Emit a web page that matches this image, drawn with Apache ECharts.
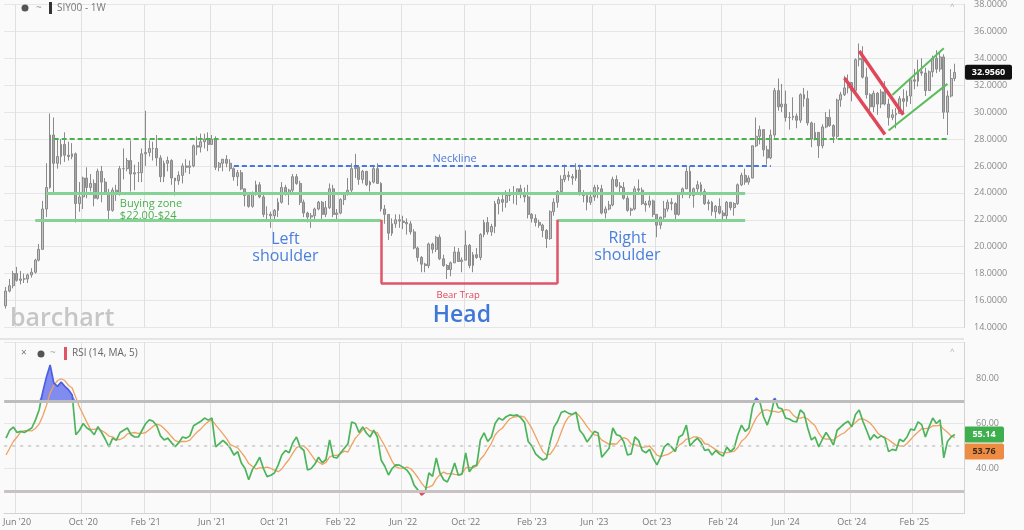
<!DOCTYPE html>
<html><head><meta charset="utf-8">
<script src="https://cdn.jsdelivr.net/npm/echarts@6/dist/echarts.min.js"></script>
<style>html,body{margin:0;padding:0;background:#fafafa}#c{width:1024px;height:530px}</style>
</head><body><div id="c"></div><script>
const weeks = [
'2020-05-11','2020-05-18','2020-05-25','2020-06-01','2020-06-08','2020-06-15','2020-06-22','2020-06-29','2020-07-06','2020-07-13','2020-07-20','2020-07-27','2020-08-03','2020-08-10','2020-08-17','2020-08-24','2020-08-31','2020-09-07','2020-09-14','2020-09-21','2020-09-28','2020-10-05','2020-10-12','2020-10-19','2020-10-26','2020-11-02','2020-11-09','2020-11-16','2020-11-23','2020-11-30','2020-12-07','2020-12-14','2020-12-21','2020-12-28',
'2021-01-04','2021-01-11','2021-01-18','2021-01-25','2021-02-01','2021-02-08','2021-02-15','2021-02-22','2021-03-01','2021-03-08','2021-03-15','2021-03-22','2021-03-29','2021-04-05','2021-04-12','2021-04-19','2021-04-26','2021-05-03','2021-05-10','2021-05-17','2021-05-24','2021-05-31','2021-06-07','2021-06-14','2021-06-21','2021-06-28','2021-07-05','2021-07-12','2021-07-19','2021-07-26','2021-08-02','2021-08-09','2021-08-16','2021-08-23','2021-08-30','2021-09-06','2021-09-13','2021-09-20','2021-09-27','2021-10-04','2021-10-11','2021-10-18','2021-10-25','2021-11-01','2021-11-08','2021-11-15','2021-11-22','2021-11-29','2021-12-06','2021-12-13','2021-12-20','2021-12-27',
'2022-01-03','2022-01-10','2022-01-17','2022-01-24','2022-01-31','2022-02-07','2022-02-14','2022-02-21','2022-02-28','2022-03-07','2022-03-14','2022-03-21','2022-03-28','2022-04-04','2022-04-11','2022-04-18','2022-04-25','2022-05-02','2022-05-09','2022-05-16','2022-05-23','2022-05-30','2022-06-06','2022-06-13','2022-06-20','2022-06-27','2022-07-04','2022-07-11','2022-07-18','2022-07-25','2022-08-01','2022-08-08','2022-08-15','2022-08-22','2022-08-29','2022-09-05','2022-09-12','2022-09-19','2022-09-26','2022-10-03','2022-10-10','2022-10-17','2022-10-24','2022-10-31','2022-11-07','2022-11-14','2022-11-21','2022-11-28','2022-12-05','2022-12-12','2022-12-19','2022-12-26',
'2023-01-02','2023-01-09','2023-01-16','2023-01-23','2023-01-30','2023-02-06','2023-02-13','2023-02-20','2023-02-27','2023-03-06','2023-03-13','2023-03-20','2023-03-27','2023-04-03','2023-04-10','2023-04-17','2023-04-24','2023-05-01','2023-05-08','2023-05-15','2023-05-22','2023-05-29','2023-06-05','2023-06-12','2023-06-19','2023-06-26','2023-07-03','2023-07-10','2023-07-17','2023-07-24','2023-07-31','2023-08-07','2023-08-14','2023-08-21','2023-08-28','2023-09-04','2023-09-11','2023-09-18','2023-09-25','2023-10-02','2023-10-09','2023-10-16','2023-10-23','2023-10-30','2023-11-06','2023-11-13','2023-11-20','2023-11-27','2023-12-04','2023-12-11','2023-12-18','2023-12-25',
'2024-01-01','2024-01-08','2024-01-15','2024-01-22','2024-01-29','2024-02-05','2024-02-12','2024-02-19','2024-02-26','2024-03-04','2024-03-11','2024-03-18','2024-03-25','2024-04-01','2024-04-08','2024-04-15','2024-04-22','2024-04-29','2024-05-06','2024-05-13','2024-05-20','2024-05-27','2024-06-03','2024-06-10','2024-06-17','2024-06-24','2024-07-01','2024-07-08','2024-07-15','2024-07-22','2024-07-29','2024-08-05','2024-08-12','2024-08-19','2024-08-26','2024-09-02','2024-09-09','2024-09-16','2024-09-23','2024-09-30','2024-10-07','2024-10-14','2024-10-21','2024-10-28','2024-11-04','2024-11-11','2024-11-18','2024-11-25','2024-12-02','2024-12-09','2024-12-16','2024-12-23','2024-12-30',
'2025-01-06','2025-01-13','2025-01-20','2025-01-27','2025-02-03','2025-02-10','2025-02-17','2025-02-24','2025-03-03','2025-03-10','2025-03-17','2025-03-24','2025-03-31','2025-04-07','2025-04-14','2025-04-21','2025-04-28','2025-05-05'];

const open = [
15.6,16.7,17.1,18.0,17.5,17.6,17.6,17.9,18.1,19.0, 19.8,22.8,24.4,28.3,26.2,26.7,27.6,26.8,26.7,26.9,
23.2,23.7,25.1,24.4,24.7,23.6,25.6,24.8,23.9,22.7, 24.2,23.9,25.8,25.8,26.4,25.4,25.5,25.5,26.9,27.0,
27.3,27.3,26.6,25.2,26.2,26.4,25.1,24.9,25.3,26.0, 25.9,26.0,27.5,27.4,27.8,28.0,27.6,28.0,25.9,26.2,
26.5,26.2,25.8,25.2,25.5,24.3,23.8,23.0,24.0,24.6, 23.7,22.4,22.4,22.3,22.7,23.3,24.4,24.0,24.2,25.2,
24.7,23.3,22.5,22.2,22.3,22.8,23.3,22.4,22.9,24.3, 22.4,22.5,23.5,23.9,24.2,25.8,25.9,25.0,25.6,24.6,
24.8,25.8,24.7,22.8,22.4,21.0,21.7,22.0,21.9,21.8, 21.7,21.1,19.9,19.2,18.7,18.6,20.2,19.8,20.7,19.1,
18.6,18.3,18.8,19.6,18.9,19.0,20.1,18.6,19.4,19.2, 20.9,21.8,21.1,21.5,23.2,23.5,23.3,23.8,24.0,24.0,
24.3,24.0,23.7,22.4,22.1,21.8,21.6,21.2,20.6,22.6, 23.3,24.1,25.0,25.3,25.2,25.1,25.7,24.0,23.8,23.3,
23.7,24.4,24.3,22.5,22.8,23.1,25.0,24.5,24.4,23.6, 22.7,22.8,24.3,24.2,23.2,23.1,23.4,22.4,21.6,22.2,
22.8,23.3,23.2,22.4,24.0,24.3,25.6,23.8,24.3,24.6, 24.1,23.2,23.3,22.6,23.0,22.5,22.3,23.3,22.9,23.2,
24.6,25.3,24.8,25.1,27.5,28.2,28.7,27.2,26.6,28.3, 31.6,30.4,30.6,29.6,29.6,29.7,29.4,31.3,31.0,29.2,
28.0,28.5,27.5,28.9,29.6,29.0,28.2,30.9,31.3,31.8, 32.2,31.6,33.9,34.0,32.6,31.3,30.4,31.4,30.6,31.5,
30.6,29.6,29.8,29.9,31.0,30.8,31.2,32.4,32.3,33.0, 32.9,31.6,33.0,34.0,33.2,34.1,30.0,31.2,32.5];

const high = [
17.0,17.6,18.2,18.5,18.2,18.0,18.0,18.4,19.1,20.2, 23.4,26.2,29.9,29.6,28.0,28.0,28.5,27.8,27.7,27.0,
24.8,25.2,25.9,25.4,25.0,25.8,26.0,25.1,24.3,24.4, 24.6,26.0,27.3,26.6,27.9,26.1,26.3,27.3,30.1,27.9,
27.8,28.3,26.8,26.4,26.7,26.5,25.1,25.6,26.2,26.5, 26.4,27.6,28.2,28.4,28.4,28.5,28.3,28.2,26.3,26.5,
26.8,26.5,25.9,25.7,25.7,24.3,23.9,24.1,24.9,24.8, 24.0,23.0,22.6,22.8,23.6,24.8,24.6,24.3,25.4,25.4,
24.9,23.5,22.6,22.5,22.9,23.4,23.4,23.4,24.7,24.6, 22.8,23.6,24.0,25.1,26.2,26.9,25.9,25.7,25.6,24.9,
26.0,26.2,24.8,23.1,22.4,22.1,22.4,22.4,22.3,22.1, 21.9,21.3,20.0,19.3,18.8,20.3,20.3,20.8,20.9,19.4,
18.7,18.9,20.0,19.9,19.2,21.2,20.2,19.6,19.9,21.0, 22.0,22.2,21.7,23.4,23.7,24.0,24.2,24.3,24.5,24.3,
24.6,24.4,24.6,22.5,22.4,22.0,21.7,21.3,22.7,23.6, 24.2,25.3,26.1,25.6,25.4,26.2,26.1,24.2,23.8,24.1,
24.6,24.6,24.6,23.0,23.4,25.2,25.3,24.8,24.8,23.8, 22.9,24.5,25.0,24.4,23.4,23.8,23.5,22.4,22.2,23.4,
23.5,23.6,23.3,24.0,24.4,25.9,26.0,24.4,24.9,24.8, 24.3,23.5,23.4,23.1,23.6,22.7,23.4,23.3,23.3,24.7,
25.5,25.8,25.3,27.5,29.6,29.0,28.7,27.5,28.7,31.8, 32.5,32.1,31.6,30.0,31.1,29.9,31.4,31.8,31.6,29.3,
29.2,28.5,29.1,30.0,30.2,29.1,31.0,31.5,32.7,32.8, 32.2,34.0,35.1,34.9,33.3,31.4,31.6,31.5,31.7,32.3,
31.0,30.2,30.3,31.2,31.7,31.6,32.5,33.2,33.9,34.0, 33.3,33.1,34.2,34.6,34.5,34.3,31.6,33.2,33.6];

const low = [
15.4,16.6,16.9,17.4,17.2,17.3,17.3,17.7,18.0,18.9, 19.8,22.2,24.3,24.0,25.8,26.1,26.3,26.4,26.5,21.8,
22.6,22.8,23.6,24.1,23.0,23.5,23.3,23.9,21.9,22.6, 23.4,23.8,25.0,25.6,24.1,24.2,24.8,24.8,26.0,26.7,
26.4,26.0,24.8,24.8,25.6,24.6,23.8,24.6,24.7,25.5, 25.4,25.9,26.8,27.0,27.3,27.1,27.6,25.7,25.6,25.6,
25.9,25.6,24.9,24.5,24.2,23.0,22.9,22.9,23.8,23.6, 22.2,22.0,21.4,22.0,22.2,23.2,23.8,23.1,23.9,24.6,
23.1,22.2,21.8,21.4,22.0,22.7,22.0,22.2,22.8,22.2, 22.0,22.4,23.1,23.8,24.0,25.1,24.6,24.7,24.5,24.1,
24.7,24.7,22.6,21.7,20.5,20.8,21.4,21.4,21.3,20.9, 20.9,19.8,18.9,18.1,18.1,18.4,19.5,19.6,19.0,18.5,
17.6,17.8,18.8,18.9,18.1,19.0,18.4,18.1,19.1,19.0, 20.7,20.9,20.8,21.0,22.4,22.6,22.9,23.4,23.2,23.1,
23.6,23.3,22.1,21.8,21.5,21.4,20.7,19.9,20.5,22.3, 22.9,24.0,24.8,24.9,24.6,24.9,23.8,23.3,22.7,23.1,
23.4,23.6,22.4,22.1,22.7,23.0,24.4,23.9,23.5,22.6, 22.3,22.7,24.0,23.1,22.6,22.9,22.2,20.7,21.3,21.9,
22.6,22.7,21.9,22.3,23.6,24.3,23.6,22.9,24.0,23.8, 23.1,22.7,22.3,22.1,22.4,22.0,21.9,22.7,22.3,23.1,
24.5,24.6,24.6,25.1,27.4,27.6,26.7,26.1,26.5,28.1, 30.1,30.0,29.3,28.7,29.4,28.8,29.2,30.4,29.0,27.4,
27.9,26.6,27.3,28.8,28.9,27.7,28.0,30.4,31.2,31.4, 30.8,31.5,33.4,32.5,31.0,29.7,30.0,29.8,30.3,30.5,
29.0,29.4,28.8,29.9,29.9,30.4,30.6,31.7,31.9,32.7, 31.2,31.6,32.6,32.9,33.0,29.5,28.3,31.1,32.3];

const close = [
16.7,17.1,18.0,17.5,17.6,17.6,17.9,18.1,19.0,19.8, 22.8,24.4,28.3,26.2,26.7,27.6,26.8,26.7,26.9,23.2,
23.7,25.1,24.4,24.7,23.6,25.6,24.8,23.9,22.7,24.2, 23.9,25.8,25.8,26.4,25.4,25.5,25.5,26.9,27.0,27.3,
27.3,26.6,25.2,26.2,26.4,25.1,24.9,25.3,26.0,25.9, 26.0,27.5,27.4,27.8,28.0,27.6,28.0,25.9,26.2,26.5,
26.2,25.8,25.2,25.5,24.3,23.8,23.0,24.0,24.6,23.7, 22.4,22.4,22.3,22.7,23.3,24.4,24.0,24.2,25.2,24.7,
23.3,22.5,22.2,22.3,22.8,23.3,22.4,22.9,24.3,22.4, 22.5,23.5,23.9,24.2,25.8,25.9,25.0,25.6,24.6,24.8,
25.8,24.7,22.8,22.4,21.0,21.7,22.0,21.9,21.8,21.7, 21.1,19.9,19.2,18.7,18.6,20.2,19.8,20.7,19.1,18.6,
18.3,18.8,19.6,18.9,19.0,20.1,18.6,19.4,19.2,20.9, 21.8,21.1,21.5,23.2,23.5,23.3,23.8,24.0,24.0,24.3,
24.0,23.7,22.4,22.1,21.8,21.6,21.2,20.6,22.6,23.3, 24.1,25.0,25.3,25.2,25.1,25.7,24.0,23.8,23.3,23.7,
24.4,24.3,22.5,22.8,23.1,25.0,24.5,24.4,23.6,22.7, 22.8,24.3,24.2,23.2,23.1,23.4,22.4,21.6,22.2,22.8,
23.3,23.2,22.4,24.0,24.3,25.6,23.8,24.3,24.6,24.1, 23.2,23.3,22.6,23.0,22.5,22.3,23.3,22.9,23.2,24.6,
25.3,24.8,25.1,27.5,28.2,28.7,27.2,26.6,28.3,31.6, 30.4,30.6,29.6,29.6,29.7,29.4,31.3,31.0,29.2,28.0,
28.5,27.5,28.9,29.6,29.0,28.2,30.9,31.3,31.8,32.2, 31.6,33.9,34.0,32.6,31.3,30.4,31.4,30.6,31.5,30.6,
29.6,29.8,29.9,31.0,30.8,31.2,32.4,32.3,33.0,32.9, 31.6,33.0,34.0,33.2,34.1,30.0,31.2,32.5,32.956];

const rsi = [
53.5,57,58.4,56,56.5,56,57,58,61.5,66, 74,80.7,86,78,76.5,78.4,76.5,75,72.7,55,
57,60,58,57,55,58.6,56,53,49.6,53.5, 52.5,56,57,58,55,54,54,57,60,61.6,
61,59,54.5,52.7,53.5,51.5,49.7,51.5,54,53.5, 54.5,59,60,61,62.4,61.5,62.4,49.6,51,52.5,
51,49,46,47.5,42.4,40,35,39.5,42,45, 40,36.4,37,38,41.5,46,48,47,51.5,54,
49.5,48,39.3,40,42,45,42.5,44,52.7,45, 44.7,47,49,51,60.7,60,56,58.5,55.8,54,
57,54,43.8,41,37.1,40,41.6,41.5,40.5,39.3, 37,32.5,30.5,28.2,29.5,38,36.5,44.7,38,35,
34,37.5,42.4,37,37.5,46.9,38.5,41,41.5,52.7, 55.8,52,54,60,62.4,61.5,63,63.8,63.5,63.8,
62.5,60.5,52,50,46.5,45,43.8,44.5,52,58.4, 61,65,65.5,64.5,64,65,57,55,51.8,54,
56.5,55.8,45,47,49,58,55,54.5,51.8,46, 46.5,54,52.5,48,47,48.5,44.5,41.6,45,49.6,
51,49.5,47.5,54,55,59.3,50,52,53.5,51.5, 48,48.5,46,48,46.5,45.5,49.5,47.5,49,55,
59.3,56.5,58,67.3,71.3,69.5,63,59.3,64,71.3, 67,66.5,62.4,62,61,60.7,66,64.5,58,52.7,
54,49.6,53,56,53.5,50.4,57,58.5,60,61, 58.5,64,66,61,57,52.7,55,53.5,54.5,53.5,
47.5,48.5,48,53,52,54,57.5,57,60.7,59.5, 54,58.5,62.4,60,61.6,44.7,52,54,55.14];

const rsiMa = [
46,49,52,54,56.3,56.8,56.8,56.7,57.8,59.7, 63.3,68,73.6,76.9,79,79.9,79.1,76.9,75.8,71.5,
67.2,63.9,60.5,57.4,57.4,57.7,56.9,55.9,54.4,54.1, 52.9,52.9,53.7,55.4,55.7,56,55.6,55.6,56,57.3,
58.7,59.7,59.2,57.8,56.1,54.2,52.4,51.8,52,52, 52.6,54.5,56.2,57.6,59.4,60.8,61.5,59.4,57.4,55.4,
53.3,50.6,49.9,49.2,47.2,45,42.2,40.9,39.8,40.3, 40.3,40.6,40.1,39.3,38.6,39.8,42.1,44.1,46.8,49.3,
50,50,48.5,46.2,43.8,42.9,41.8,42.7,45.2,45.8, 45.8,46.7,47.7,47.3,50.5,53.5,55.3,57.2,58.2,56.9,
56.3,55.9,52.9,50,46.6,43.2,40.7,40.2,40.1,40.6, 40,38.2,36,33.5,31.5,31.7,32.5,35.4,37.3,38.4,
37.6,37.8,37.4,37.2,37.7,40.3,40.5,40.2,41.1,44.1, 45.9,48.6,51.2,54.9,56.8,58,60.2,62.1,62.8,63.1,
63.3,62.8,60.5,57.8,54.3,50.8,47.5,46,46.4,48.7, 51.9,56.2,60.4,62.9,64,64.8,63.2,61.1,58.6,56.6,
54.9,54.6,52.6,51.7,50.7,51,50.8,52.7,53.7,53.1, 50.8,50.6,50.2,49.4,49.6,50,48.1,45.9,45.3,45.8,
46.3,47.3,48.5,50.3,51.4,53.1,53.2,54.1,54,53.3, 51,50.7,49.5,48.4,47.4,46.9,47.1,47.4,47.6,49.3,
52.1,53.5,55.6,59.2,62.5,64.5,65.8,66.1,65.4,65.4, 64.9,65.6,66.2,65.8,63.8,62.5,62.4,62.8,62,60.4,
59,55.8,53.5,53.1,53.2,52.5,54,55.1,55.9,57.4, 59,60.4,61.9,62.1,61.3,60.1,58.3,55.8,54.5,53.8,
52.8,51.5,50.4,50.1,49.8,51.1,52.9,54.7,56.2,57.7, 57.7,57.9,59,58.9,59.3,57.4,56.1,54.5,53.76];

const tickMonths = [1, 5, 9];
const monthNames = ['Jan','Feb','Mar','Apr','May','Jun','Jul','Aug','Sep','Oct','Nov','Dec'];
const symbolTitle = 'SIY00 - 1W';
const rsiTitle = 'RSI (14, MA, 5)';
const lastPrice = 32.956;
const lastRsi = 55.14;
const lastRsiMa = 53.76;

const F = "'Open Sans', 'DejaVu Sans', sans-serif";
function isTick(i) {
  const d = weeks[i]; if (!d) return false;
  const m = +d.slice(5, 7) - 1, day = +d.slice(8, 10);
  return tickMonths.indexOf(m) >= 0 && day <= 7;
}
function fmtDate(d) { return monthNames[+d.slice(5, 7) - 1] + " '" + d.slice(2, 4); }

const candle = close.map((c, i) => [open[i], c, low[i], high[i]]);
const obBase = rsi.map(() => 70);
const obTop = rsi.map(v => Math.max(v - 70, 0));
const osBase = rsi.map(v => Math.min(v, 30));
const osTop = rsi.map(v => 30 - Math.min(v, 30));

function seg(a, b, style) { return [{ coord: a, lineStyle: style }, { coord: b }]; }
const gDash = { color: '#4caf50', width: 2, type: [5, 3] };
const bDash = { color: '#4a78d8', width: 2, type: [5, 3] };
const gSolid = { color: '#84d294', width: 3, type: 'solid' };
const rBox = { color: '#e05468', width: 2.5, type: 'solid' };
const rChan = { color: '#e0485a', width: 3.5, type: 'solid' };
const gChan = { color: '#5cbd5c', width: 2, type: 'solid' };

function txt(coord, text, color, size, extra) {
  return Object.assign({ coord: coord, symbolSize: 0,
    label: Object.assign({ show: true, position: 'inside', formatter: text, color: color, fontSize: size, fontFamily: F, lineHeight: size + 2 }, extra || {}) });
}

const chart = echarts.init(document.getElementById('c'), null, { renderer: 'canvas' });
const option = {
  animation: false,
  backgroundColor: '#fafafa',
  textStyle: { fontFamily: F },
  grid: [
    { left: 4, right: 60, top: 1, height: 326.4 },
    { left: 4, right: 60, top: 342.5, height: 171 }
  ],
  xAxis: [
    { type: 'category', gridIndex: 0, data: weeks, boundaryGap: true,
      axisLine: { show: false }, axisTick: { show: false }, axisLabel: { show: false },
      splitLine: { show: true, interval: (i) => isTick(i), lineStyle: { color: '#e0e0e0' } } },
    { type: 'category', gridIndex: 1, data: weeks, boundaryGap: true,
      axisLine: { show: true, lineStyle: { color: '#d2d2d2' } }, axisTick: { show: false },
      axisLabel: { interval: (i) => isTick(i), formatter: fmtDate, color: '#777', fontSize: 9, margin: 4, fontFamily: F },
      splitLine: { show: true, interval: (i) => isTick(i), lineStyle: { color: '#e0e0e0' } } }
  ],
  yAxis: [
    { type: 'value', gridIndex: 0, position: 'right', min: 14, max: 38, interval: 2,
      axisLine: { show: true, lineStyle: { color: '#d2d2d2' } }, axisTick: { show: false },
      axisLabel: { formatter: v => v.toFixed(4), color: '#8a8a8a', fontSize: 9, margin: 10, fontFamily: F },
      splitLine: { lineStyle: { color: '#e6e6e6' } } },
    { type: 'value', gridIndex: 1, position: 'right', min: 20, max: 96, interval: 20,
      axisLine: { show: true, lineStyle: { color: '#d2d2d2' } }, axisTick: { show: false },
      axisLabel: { formatter: v => (v <= 20 || v > 90) ? '' : v.toFixed(2), color: '#8a8a8a', fontSize: 9, margin: 12, fontFamily: F },
      splitLine: { lineStyle: { color: '#e6e6e6' } } }
  ],
  visualMap: {
    show: false, type: 'piecewise', seriesIndex: 1, dimension: 1,
    pieces: [{ lt: 30, color: '#e0485a' }, { gte: 30, lte: 70, color: '#4cb45a' }, { gt: 70, color: '#4e5fe0' }]
  },
  series: [
    { type: 'candlestick', xAxisIndex: 0, yAxisIndex: 0, data: candle, barWidth: '65%',
      itemStyle: { color: '#c4c4c4', color0: '#a6a6a6', borderColor: '#8a8a8a', borderColor0: '#8a8a8a', borderWidth: 1 },
      markLine: { silent: true, symbol: ['none', 'none'], label: { show: false }, emphasis: { disabled: true },
        data: [
          seg(['2020-08-10', 28], ['2025-04-07', 28], gDash),
          seg(['2021-07-19', 26], ['2024-05-06', 26], bDash),
          seg(['2020-07-27', 24], ['2024-03-18', 24], gSolid),
          seg(['2020-07-06', 22], ['2022-04-25', 22], gSolid),
          seg(['2023-03-27', 22], ['2024-03-18', 22], gSolid),
          seg(['2022-04-25', 22], ['2022-04-25', 17.25], rBox),
          seg(['2022-04-25', 17.25], ['2023-03-27', 17.25], rBox),
          seg(['2023-03-27', 17.25], ['2023-03-27', 22], rBox),
          seg(['2024-09-23', 32.53], ['2024-12-09', 28.34], rChan),
          seg(['2024-10-21', 34.55], ['2025-01-13', 29.81], rChan),
          seg(['2024-12-16', 28.63], ['2025-04-07', 32.1], gChan),
          seg(['2024-12-23', 31.28], ['2025-03-31', 34.74], gChan)
        ] },
      markPoint: { silent: true, symbol: 'circle', symbolSize: 0, itemStyle: { color: 'rgba(0,0,0,0)' },
        data: [
          txt(['2022-09-12', 26.5], 'Neckline', '#4a78d8', 11),
          txt(['2020-12-14', 22.75], 'Buying zone\n$22.00-$24', '#4caf50', 11, { align: 'left', lineHeight: 12 }),
          txt(['2021-10-25', 19.88], 'Left\nshoulder', '#4a80dc', 16, { lineHeight: 17 }),
          txt(['2023-08-07', 19.96], 'Right\nshoulder', '#4a80dc', 16, { lineHeight: 17 }),
          txt(['2022-09-19', 16.35], 'Bear Trap', '#e0485a', 9.5),
          txt(['2022-09-26', 14.9], 'Head', '#3f78d8', 23, { fontWeight: 600 })
        ] } },
    { type: 'line', name: 'RSI', xAxisIndex: 1, yAxisIndex: 1, data: rsi, symbol: 'none', z: 4,
      lineStyle: { width: 1.7 },
      markLine: { silent: true, symbol: ['none', 'none'], label: { show: false }, emphasis: { disabled: true },
        data: [
          { yAxis: 70, lineStyle: { color: '#bdbdbd', width: 3, type: 'solid' } },
          { yAxis: 30, lineStyle: { color: '#c9c1c4', width: 3, type: 'solid' } },
          { yAxis: 50, lineStyle: { color: '#c6c6c6', width: 1.5, type: [3, 5] } }
        ] } },
    { type: 'line', name: 'MA', xAxisIndex: 1, yAxisIndex: 1, data: rsiMa, symbol: 'none', z: 3,
      lineStyle: { width: 1.3, color: '#f0a060' }, itemStyle: { color: '#f0a060' } },
    { type: 'line', xAxisIndex: 1, yAxisIndex: 1, data: obBase, stack: 'ob', symbol: 'none', silent: true, z: 2,
      lineStyle: { opacity: 0 } },
    { type: 'line', xAxisIndex: 1, yAxisIndex: 1, data: obTop, stack: 'ob', symbol: 'none', silent: true, z: 2,
      lineStyle: { opacity: 0 }, areaStyle: { color: 'rgba(98,112,236,0.8)', opacity: 1 } },
    { type: 'line', xAxisIndex: 1, yAxisIndex: 1, data: osBase, stack: 'os', symbol: 'none', silent: true, z: 2,
      lineStyle: { opacity: 0 } },
    { type: 'line', xAxisIndex: 1, yAxisIndex: 1, data: osTop, stack: 'os', symbol: 'none', silent: true, z: 2,
      lineStyle: { opacity: 0 }, areaStyle: { color: 'rgba(224,72,90,0.85)', opacity: 1 } }
  ]
};
chart.setOption(option);

const yP = chart.convertToPixel({ yAxisIndex: 0 }, lastPrice);
const yR = chart.convertToPixel({ yAxisIndex: 1 }, lastRsi);
const gTop = yR - 8;
function box(x, y, w, h, fill, text, color) {
  return { type: 'group', children: [
    { type: 'rect', shape: { x: x, y: y, width: w, height: h, r: 2 }, style: { fill: fill } },
    { type: 'text', x: x + w / 2, y: y + h / 2, style: { text: text, fill: color, font: 'bold 9px ' + F, textAlign: 'center', textVerticalAlign: 'middle' } }
  ] };
}
chart.setOption({ graphic: [
  { type: 'line', shape: { x1: 0, y1: 339, x2: 964, y2: 339 }, style: { stroke: '#cfcfcf', lineWidth: 1 } },
  { type: 'text', left: 10, top: 306, style: { text: 'barchart', fill: '#c6c6c6', font: '600 25px ' + F } },
  { type: 'circle', shape: { cx: 25, cy: 8, r: 3.5 }, style: { fill: '#555' } },
  { type: 'text', x: 36, y: 8, style: { text: '~', fill: '#999', font: '10px ' + F, textVerticalAlign: 'middle' } },
  { type: 'rect', shape: { x: 49, y: 2, width: 3, height: 12 }, style: { fill: '#333' } },
  { type: 'text', x: 57, y: 8, style: { text: symbolTitle, fill: '#777', font: '10px ' + F, textVerticalAlign: 'middle' } },
  { type: 'text', x: 950, y: 7, style: { text: '^', fill: '#aaa', font: '8px ' + F, textVerticalAlign: 'middle' } },
  { type: 'text', x: 21, y: 353, style: { text: '×', fill: '#777', font: '10px ' + F, textVerticalAlign: 'middle' } },
  { type: 'circle', shape: { cx: 41, cy: 354, r: 3.5 }, style: { fill: '#555' } },
  { type: 'text', x: 50, y: 353, style: { text: '~', fill: '#aaa', font: '10px ' + F, textVerticalAlign: 'middle' } },
  { type: 'rect', shape: { x: 64, y: 347, width: 3, height: 13 }, style: { fill: '#e05468' } },
  { type: 'text', x: 72, y: 353, style: { text: rsiTitle, fill: '#666', font: '10px ' + F, textVerticalAlign: 'middle' } },
  { type: 'text', x: 950, y: 352, style: { text: '^', fill: '#aaa', font: '8px ' + F, textVerticalAlign: 'middle' } },
  box(965, yP - 7.5, 47, 15, '#111', lastPrice.toFixed(4), '#fff'),
  box(964, gTop, 40, 16, '#3fae4f', lastRsi.toFixed(2), '#fff'),
  box(964, gTop + 17, 40, 16, '#ee8c44', lastRsiMa.toFixed(2), '#3a2a1a')
] });
</script></body></html>
